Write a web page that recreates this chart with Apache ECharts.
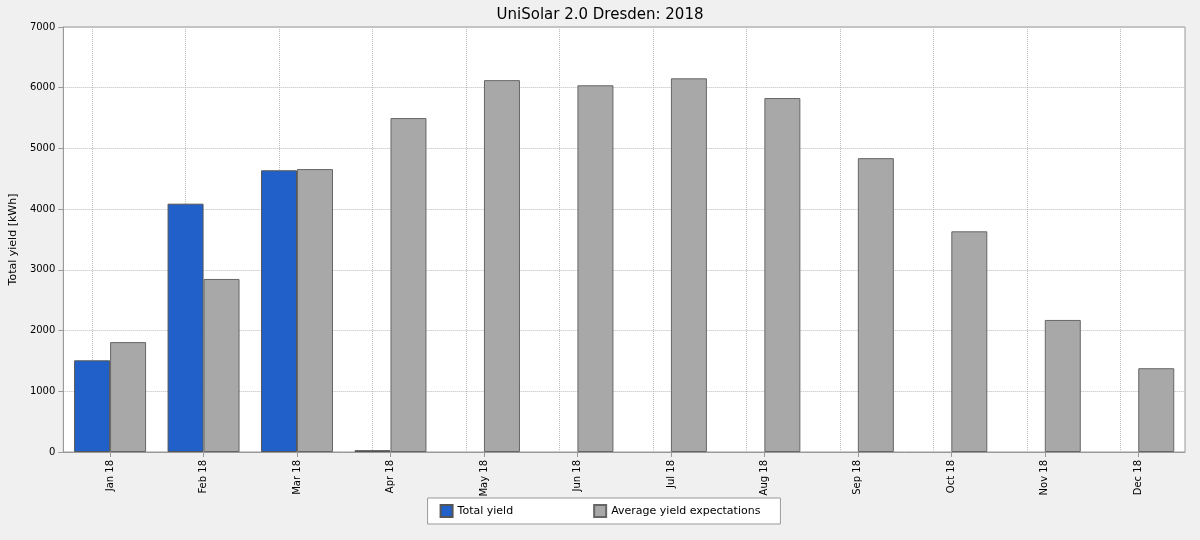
<!DOCTYPE html>
<html><head><meta charset="utf-8">
<script src="https://cdn.jsdelivr.net/npm/echarts@6/dist/echarts.min.js"></script>
<style>html,body{margin:0;padding:0;background:#f0f0f0}#c{width:1200px;height:540px}</style>
</head><body><div id="c"></div>
<script>
const categories=["Jan 18","Feb 18","Mar 18","Apr 18","May 18","Jun 18","Jul 18","Aug 18","Sep 18","Oct 18","Nov 18","Dec 18"];
const totalYield=[1510,4090,4640,30,null,null,null,null,null,null,null,null];
const avgYield=[1810,2850,4660,5500,6125,6040,6155,5830,4840,3635,2175,1380];
const chart=echarts.init(document.getElementById('c'));
chart.setOption({
  backgroundColor:'#f0f0f0',
  animation:false,
  title:{text:'UniSolar 2.0 Dresden: 2018',left:'center',top:3,textStyle:{fontFamily:'DejaVu Sans',fontSize:15,fontWeight:'normal',color:'#000'}},
  grid:{left:55,right:15,top:27,bottom:88,backgroundColor:'#fff',show:true,borderColor:'#999',borderWidth:1,containLabel:false},
  legend:{bottom:16,left:'center',itemGap:80,itemWidth:12,itemHeight:12,icon:'rect',
    borderColor:'#999',borderWidth:1,backgroundColor:'#fff',padding:[6,20,6,12],
    textStyle:{fontFamily:'DejaVu Sans',fontSize:11,color:'#000'},
    data:['Total yield','Average yield expectations']},
  xAxis:{type:'category',data:categories,
    axisLine:{lineStyle:{color:'#999'}},axisTick:{show:true,alignWithLabel:true,lineStyle:{color:'#999'}},
    axisLabel:{rotate:90,fontFamily:'DejaVu Sans',fontSize:10,color:'#000'},
    splitLine:{show:false}},
  yAxis:{type:'value',min:0,max:7000,interval:1000,name:'Total yield [kWh]',nameLocation:'middle',nameGap:44,
    nameTextStyle:{fontFamily:'DejaVu Sans',fontSize:11,color:'#000'},
    axisLine:{show:true,lineStyle:{color:'#999'}},axisTick:{show:true,lineStyle:{color:'#999'}},
    axisLabel:{fontFamily:'DejaVu Sans',fontSize:10,color:'#000',formatter:v=>String(v)},
    splitLine:{lineStyle:{type:'dotted',color:'#bbb'}}},
  series:[
    {name:'Total yield',type:'bar',data:totalYield,barCategoryGap:'23%',barGap:'0%',
     itemStyle:{color:'#2060c8',borderColor:'#555',borderWidth:1},
     markLine:{silent:true,symbol:'none',label:{show:false},z:0,
       lineStyle:{type:'dotted',color:'#bbb',width:1},
       data:categories.map(c=>({xAxis:c}))}},
    {name:'Average yield expectations',type:'bar',data:avgYield,barGap:'0%',
     itemStyle:{color:'#a8a8a8',borderColor:'#666',borderWidth:1}}
  ]
});
</script></body></html>
